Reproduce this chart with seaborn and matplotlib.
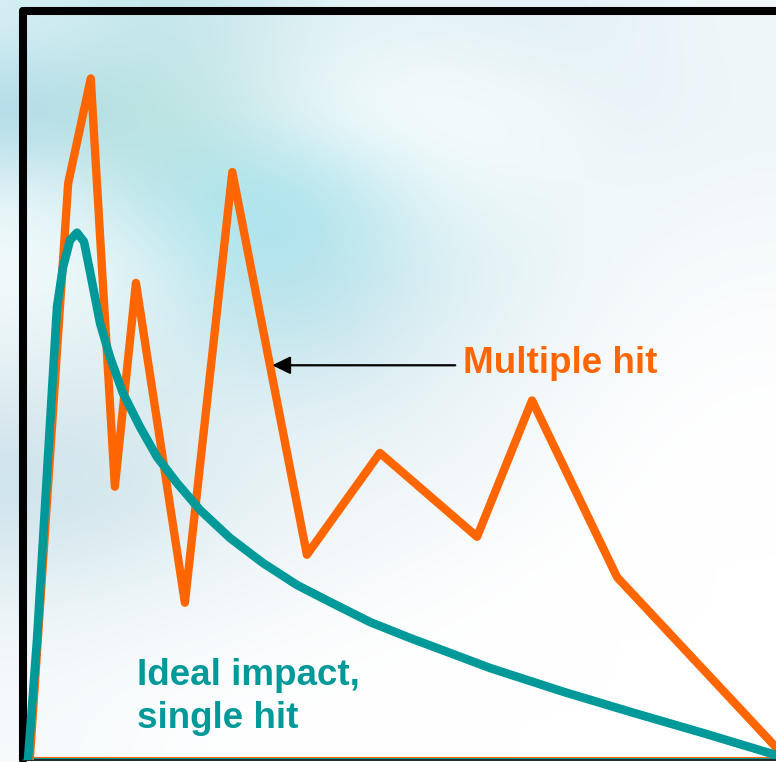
import numpy as np
import matplotlib
matplotlib.use("Agg")
import matplotlib.pyplot as plt
from matplotlib.colors import to_rgb
import seaborn as sns

# Impact response traces (time and amplitude in % of the plotted range)
multi_time = [0.9, 6.0, 9.0, 12.2, 15.0, 21.5, 27.8, 37.7, 47.4, 60.3, 67.6, 78.9, 100.0]
multi_amp = [0.0, 77.0, 91.0, 36.5, 63.7, 21.0, 78.5, 27.4, 41.0, 29.8, 48.0, 24.4, 1.7]

single_time = [0.66, 1.86, 4.52, 5.31, 6.24, 7.17, 8.1, 8.9, 10.23, 11.55, 13.28, 15.54,
               17.8, 20.45, 23.51, 27.49, 31.87, 36.39, 40.77, 46.08, 51.39, 56.71,
               62.02, 71.85, 81.14, 90.31, 100.0]
single_amp = [0.0, 16.0, 60.5, 65.8, 69.4, 70.4, 69.2, 65.2, 58.34, 53.8, 48.97, 44.46,
              40.45, 36.98, 33.38, 29.64, 26.3, 23.36, 21.1, 18.42, 16.29, 14.29,
              12.28, 9.08, 6.28, 3.6, 0.67]

multi_label = "Multiple hit"
single_label = "Ideal impact,\nsingle hit"

ORANGE = "#FF6600"
TEAL = "#009999"

# Soft sky-like backdrop colours (rows top to bottom)
backdrop = [
    ["#d6eff4", "#c2e6ec", "#cfeaee", "#e2f3f6", "#e6f3f7", "#e2f0f5", "#e8f3f8", "#f0f7fa"],
    ["#a6d6e4", "#b6e2d8", "#cdeaea", "#f6fcfd", "#fcfefe", "#f4fafb", "#e8f3f7", "#eef6fa"],
    ["#e6f5f8", "#b8e4ea", "#a6e2ec", "#b4e6ee", "#e8f6f8", "#eef8fa", "#eef7fa", "#f2f8fb"],
    ["#f4fbfc", "#e0f4f6", "#aee2ec", "#b8e4ec", "#d6eef2", "#e8f4f6", "#f4f9fb", "#f8fbfc"],
    ["#eaf4f6", "#ddeff3", "#c8e8ee", "#cbe6ee", "#e4f1f5", "#eef6f9", "#f8fbfc", "#fcfdfe"],
    ["#d8e8ee", "#dcecf0", "#e2f0f4", "#e6f2f6", "#eaf4f6", "#f4f9fb", "#fcfdfe", "#ffffff"],
    ["#cce2ea", "#d4e8ee", "#e6f1f4", "#eef5f8", "#f2f7fa", "#f8fbfc", "#ffffff", "#ffffff"],
    ["#e2eff3", "#e8f3f6", "#f0f6f9", "#f6f9fb", "#fafcfd", "#ffffff", "#ffffff", "#ffffff"],
    ["#f2f8fa", "#f6fafc", "#fafcfd", "#fdfefe", "#ffffff", "#ffffff", "#ffffff", "#ffffff"],
    ["#f6fafc", "#fbfdfe", "#ffffff", "#ffffff", "#ffffff", "#ffffff", "#ffffff", "#ffffff"],
]

sns.set_style("white")
plt.rcParams["font.family"] = ["Liberation Sans", "DejaVu Sans"]

fig = plt.figure(figsize=(7.76, 7.62), dpi=100)

bg = fig.add_axes([0, 0, 1, 1], zorder=0)
bg.imshow(np.array([[to_rgb(c) for c in row] for row in backdrop]),
          aspect="auto", interpolation="bicubic", extent=[0, 1, 0, 1])
bg.axis("off")

W, H = 776, 762
ax = fig.add_axes([23 / W, 2 / H, 1 - 23 / W, (760 - 11) / H], zorder=1)
ax.set_facecolor("none")

sns.lineplot(x=multi_time, y=multi_amp, ax=ax, color=ORANGE, lw=6.0, sort=False,
             solid_joinstyle="round", solid_capstyle="round", zorder=3)
sns.lineplot(x=single_time, y=single_amp, ax=ax, color=TEAL, lw=6.2, sort=False,
             solid_joinstyle="round", solid_capstyle="round", zorder=4)

# Zero baselines of both traces
ax.plot([single_time[0], 100], [0.15, 0.15], color=TEAL, lw=1.6, zorder=2)
ax.plot([multi_time[0], 100], [0.45, 0.45], color=ORANGE, lw=0.8, zorder=2)

ax.set_xlim(0, 100)
ax.set_ylim(0, 100)
ax.set_xticks([])
ax.set_yticks([])

for side in ("left", "top"):
    ax.spines[side].set_linewidth(5.8)
    ax.spines[side].set_color("black")
    ax.spines[side].set_capstyle("round")
ax.spines["right"].set_visible(False)
ax.spines["bottom"].set_linewidth(1.4)
ax.spines["bottom"].set_color("#1e2a2a")

ax.annotate("", xy=(33.1, 52.7), xytext=(57.4, 52.7),
            arrowprops=dict(arrowstyle="-|>,head_length=0.55,head_width=0.27",
                            color="black", lw=1.6, mutation_scale=20,
                            shrinkA=0, shrinkB=0), zorder=5)
ax.text(58.4, 51.7, multi_label, color=ORANGE, fontsize=26.5, fontweight="bold",
        ha="left", va="baseline", zorder=5)
ax.text(15.1, 4.27, single_label, color=TEAL, fontsize=26.5, fontweight="bold",
        ha="left", va="baseline", linespacing=1.28, zorder=5)

fig.savefig("out.png", dpi=100)
